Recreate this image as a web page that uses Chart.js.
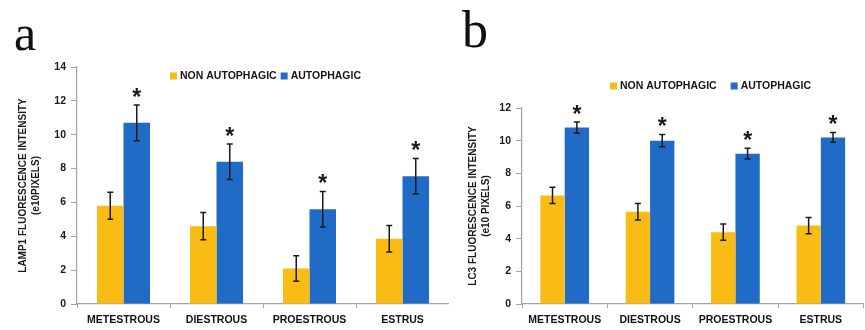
<!DOCTYPE html>
<html>
<head>
<meta charset="utf-8">
<script src="https://cdn.jsdelivr.net/npm/chart.js@4.4.1/dist/chart.umd.min.js"></script>
<style>
  body { margin: 0; background: #fff; width: 865px; height: 330px; overflow: hidden; position: relative; }
  canvas { position: absolute; top: 0; }
  #chartA { left: 0; }
  #chartB { left: 449px; }
  .panel { position: absolute; font-family: "Liberation Serif", "DejaVu Serif", serif; color: #111; line-height: 1; }
  #labelA { left: 14px; top: 8px; font-size: 50px; }
  #labelB { left: 462px; top: 4px; font-size: 52px; }
</style>
</head>
<body>
<canvas id="chartA" width="449" height="330"></canvas>
<canvas id="chartB" width="416" height="330"></canvas>
<div class="panel" id="labelA">a</div>
<div class="panel" id="labelB">b</div>
<script>
// Oestrous cycle stages
const stages = ["METESTROUS", "DIESTROUS", "PROESTROUS", "ESTRUS"];
const seriesNames = ["NON AUTOPHAGIC", "AUTOPHAGIC"];

// Panel a - LAMP1
const lampNon = [5.8, 4.6, 2.1, 3.85];
const lampNonErr = [0.8, 0.8, 0.75, 0.78];
const lampAuto = [10.7, 8.4, 5.6, 7.55];
const lampAutoErr = [1.05, 1.05, 1.05, 1.05];
const lampTicks = [0, 2, 4, 6, 8, 10, 12, 14];

// Panel b - LC3
const lc3Non = [6.65, 5.65, 4.4, 4.8];
const lc3NonErr = [0.5, 0.5, 0.5, 0.5];
const lc3Auto = [10.8, 10.0, 9.2, 10.2];
const lc3AutoErr = [0.35, 0.37, 0.33, 0.3];
const lc3Ticks = [0, 2, 4, 6, 8, 10, 12];

const YELLOW = "#F8BC14";
const BLUE = "#1F6BC5";
const AXIS = "#a3a3a3";
const FONT = "'Liberation Sans', Arial, sans-serif";

// error bars + significance stars, drawn from the bar elements
const errorBarPlugin = {
    id: "errorBars",
    afterDatasetsDraw(chart, args, opts) {
        const ctx = chart.ctx;
        const y = chart.scales.y;
        ctx.save();
        chart.data.datasets.forEach((ds, di) => {
            const meta = chart.getDatasetMeta(di);
            meta.data.forEach((bar, i) => {
                const v = ds.data[i], e = ds.errors[i];
                const top = y.getPixelForValue(v + e);
                const bot = y.getPixelForValue(v - e);
                ctx.strokeStyle = "#1a1a1a";
                ctx.lineWidth = 1.5;
                ctx.beginPath();
                ctx.moveTo(bar.x, top); ctx.lineTo(bar.x, bot);
                ctx.moveTo(bar.x - 3, top); ctx.lineTo(bar.x + 3, top);
                ctx.moveTo(bar.x - 3, bot); ctx.lineTo(bar.x + 3, bot);
                ctx.stroke();
                if (ds.star) {
                    const size = 23;
                    ctx.fillStyle = "#1a1a1a";
                    ctx.font = "bold " + size + "px " + FONT;
                    ctx.textAlign = "center";
                    ctx.textBaseline = "alphabetic";
                    ctx.fillText("*", bar.x, top - 13.5 + size * 0.575);
                }
            });
        });
        ctx.restore();
    }
};

// small square legend placed by hand like the original figure
const boxLegendPlugin = {
    id: "boxLegend",
    afterDraw(chart, args, opts) {
        const ctx = chart.ctx;
        ctx.save();
        ctx.font = "bold 10.5px " + FONT;
        ctx.textBaseline = "middle";
        ctx.textAlign = "left";
        let x = opts.x;
        chart.data.datasets.forEach((ds, i) => {
            ctx.fillStyle = ds.backgroundColor;
            ctx.fillRect(x, opts.y - 3.5, 7, 7);
            x += 10;
            ctx.fillStyle = "#151515";
            ctx.fillText(ds.label, x, opts.y + 0.5);
            x += ctx.measureText(ds.label).width + opts.gap;
        });
        ctx.restore();
    }
};

function makeChart(id, cfg) {
    const ctx = document.getElementById(id).getContext("2d");
    return new Chart(ctx, {
        type: "bar",
        data: {
            labels: stages,
            datasets: [
                { label: seriesNames[0], data: cfg.non, errors: cfg.nonErr, backgroundColor: YELLOW, star: false },
                { label: seriesNames[1], data: cfg.auto, errors: cfg.autoErr, backgroundColor: BLUE, star: true }
            ]
        },
        options: {
            responsive: false,
            animation: false,
            layout: { padding: { top: cfg.top, bottom: 0, left: 0, right: cfg.right } },
            datasets: { bar: { categoryPercentage: 0.57, barPercentage: 1.0, borderWidth: 0 } },
            scales: {
                x: {
                    grid: { drawOnChartArea: false, drawTicks: true, tickLength: 4, color: AXIS },
                    border: { color: AXIS, width: 1.2 },
                    ticks: { color: "#111", padding: 6, font: { family: FONT, size: 10.5, weight: "bold" }, maxRotation: 0 },
                    afterFit: (s) => { s.height = 26; }
                },
                y: {
                    min: 0,
                    max: cfg.ticks[cfg.ticks.length - 1],
                    afterBuildTicks: (s) => { s.ticks = cfg.ticks.map(v => ({ value: v })); },
                    grid: { drawOnChartArea: false, drawTicks: true, tickLength: 6, color: AXIS },
                    border: { color: AXIS, width: 1.2 },
                    ticks: { color: "#1a1a1a", padding: 5, font: { family: FONT, size: 10.5, weight: "bold" } },
                    title: {
                        display: true,
                        text: cfg.title,
                        color: "#1a1a1a",
                        padding: { top: cfg.titlePad, bottom: 0 },
                        font: { family: FONT, size: 10, weight: "bold", lineHeight: 1.25 }
                    },
                    afterFit: (s) => { s.width = cfg.axisWidth; }
                }
            },
            plugins: {
                legend: { display: false },
                tooltip: { enabled: false },
                boxLegend: cfg.legend
            }
        },
        plugins: [errorBarPlugin, boxLegendPlugin]
    });
}

makeChart("chartA", {
    non: lampNon, nonErr: lampNonErr, auto: lampAuto, autoErr: lampAutoErr,
    ticks: lampTicks,
    title: ["LAMP1 FLUORESCENCE INTENSITY", "(e10PIXELS)"],
    top: 67, right: 0, axisWidth: 77, titlePad: 17,
    legend: { x: 170, y: 76, gap: 4 }
});

makeChart("chartB", {
    non: lc3Non, nonErr: lc3NonErr, auto: lc3Auto, autoErr: lc3AutoErr,
    ticks: lc3Ticks,
    title: ["LC3 FLUORESCENCE INTENSITY", "(e10 PIXELS)"],
    top: 108, right: 1.5, axisWidth: 73, titlePad: 18,
    legend: { x: 161, y: 86, gap: 14 }
});
</script>
</body>
</html>
